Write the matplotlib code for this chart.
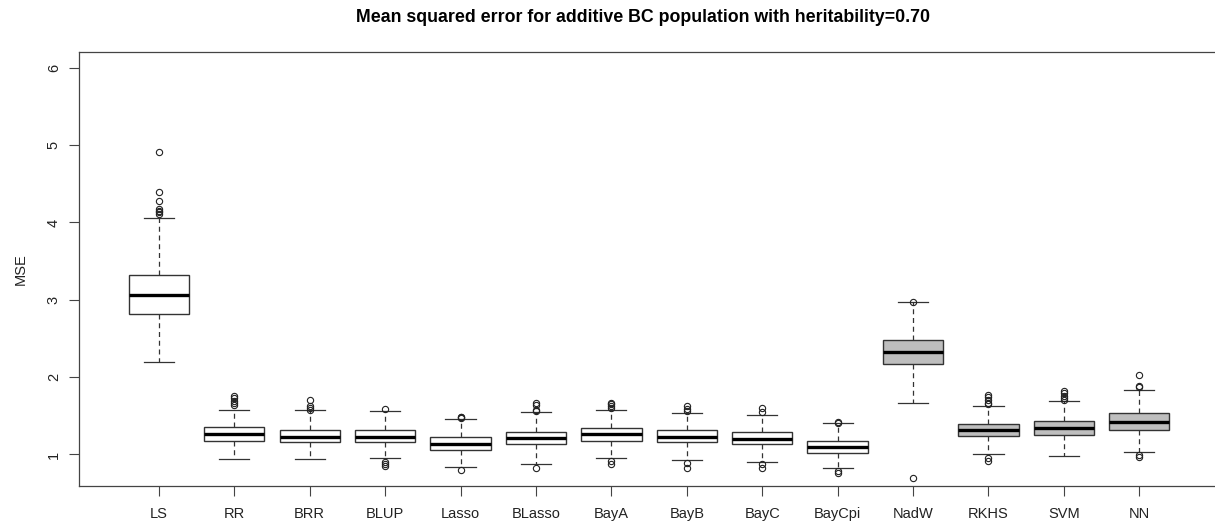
import numpy as np
import matplotlib
matplotlib.use("Agg")
from matplotlib import pyplot as plt

plt.rcParams['font.family'] = ['Liberation Sans', 'DejaVu Sans']

methods = ['LS', 'RR', 'BRR', 'BLUP', 'Lasso', 'BLasso', 'BayA', 'BayB',
           'BayC', 'BayCpi', 'NadW', 'RKHS', 'SVM', 'NN']

# five-number summaries per method
whis_lo = [2.19, 0.94, 0.94, 0.95, 0.84, 0.88, 0.95, 0.93, 0.905, 0.83, 1.67, 1.00, 0.975, 1.035]
q1      = [2.81, 1.18, 1.155, 1.155, 1.055, 1.13, 1.17, 1.155, 1.13, 1.025, 2.165, 1.235, 1.245, 1.32]
med     = [3.06, 1.26, 1.22, 1.23, 1.14, 1.215, 1.26, 1.23, 1.20, 1.09, 2.325, 1.31, 1.345, 1.42]
q3      = [3.32, 1.35, 1.32, 1.32, 1.22, 1.29, 1.34, 1.31, 1.29, 1.18, 2.48, 1.39, 1.435, 1.53]
whis_hi = [4.06, 1.58, 1.57, 1.56, 1.46, 1.55, 1.58, 1.54, 1.51, 1.41, 2.97, 1.62, 1.695, 1.83]

outliers = [
    [4.91, 4.39, 4.28, 4.17, 4.15, 4.13, 4.11],
    [1.755, 1.725, 1.69, 1.66, 1.64],
    [1.70, 1.63, 1.60, 1.58],
    [1.59, 0.90, 0.875, 0.85],
    [1.49, 1.48, 1.47, 0.805],
    [1.67, 1.64, 1.58, 1.565, 0.82],
    [1.67, 1.65, 1.625, 1.60, 0.91, 0.88],
    [1.62, 1.59, 1.565, 0.89, 0.83],
    [1.595, 1.55, 0.88, 0.83],
    [1.42, 1.41, 0.79, 0.755],
    [2.975, 0.69],
    [1.77, 1.74, 1.70, 1.67, 1.65, 0.96, 0.92],
    [1.82, 1.79, 1.755, 1.725, 1.70],
    [2.03, 1.89, 1.875, 0.99, 0.97],
]

fills = ['white'] * 10 + ['#bebebe'] * 4

stats = []
for i in range(len(methods)):
    stats.append(dict(label=methods[i], whislo=whis_lo[i], q1=q1[i], med=med[i],
                      q3=q3[i], whishi=whis_hi[i], fliers=outliers[i]))

fig = plt.figure(figsize=(12.15, 5.25), dpi=100)
ax = fig.add_axes([0.065, 0.0743, 0.9385, 0.8272])

pos = np.arange(1, len(methods) + 1)
res = ax.bxp(stats, positions=pos, widths=0.8, patch_artist=True,
             boxprops=dict(edgecolor='#333333', linewidth=1.0),
             medianprops=dict(color='black', linewidth=2.4, solid_capstyle='butt'),
             whiskerprops=dict(color='#333333', linewidth=0.9, linestyle=(0, (4, 3))),
             capprops=dict(color='#333333', linewidth=0.9),
             capwidths=0.4,
             flierprops=dict(marker='o', markerfacecolor='none', markeredgecolor='#222222',
                             markersize=4.5, markeredgewidth=0.8))
for patch, c in zip(res['boxes'], fills):
    patch.set_facecolor(c)

ax.set_xlim(-0.06, 15.06)
ax.set_ylim(0.592, 6.208)
ax.set_yticks([1, 2, 3, 4, 5, 6])
ax.set_yticklabels(['1', '2', '3', '4', '5', '6'], rotation=90, va='center')
ax.set_xticks(pos)
ax.set_xticklabels(methods)
ax.tick_params(axis='both', length=7, width=0.8, color='#444444', labelsize=10.5,
               labelcolor='#222222')
ax.tick_params(axis='x', pad=8)
ax.tick_params(axis='y', pad=6)
for s in ax.spines.values():
    s.set_color('#444444')
    s.set_linewidth(0.9)
# the frame runs off the right edge of the figure
ax.spines['right'].set_visible(False)

ax.set_ylabel('MSE', fontsize=10.5, color='#222222', labelpad=14)
fig.text(0.529, 0.967, 'Mean squared error for additive BC population with heritability=0.70',
         ha='center', va='center', fontsize=12.8, fontweight='bold')

fig.savefig('out.png', dpi=100)
